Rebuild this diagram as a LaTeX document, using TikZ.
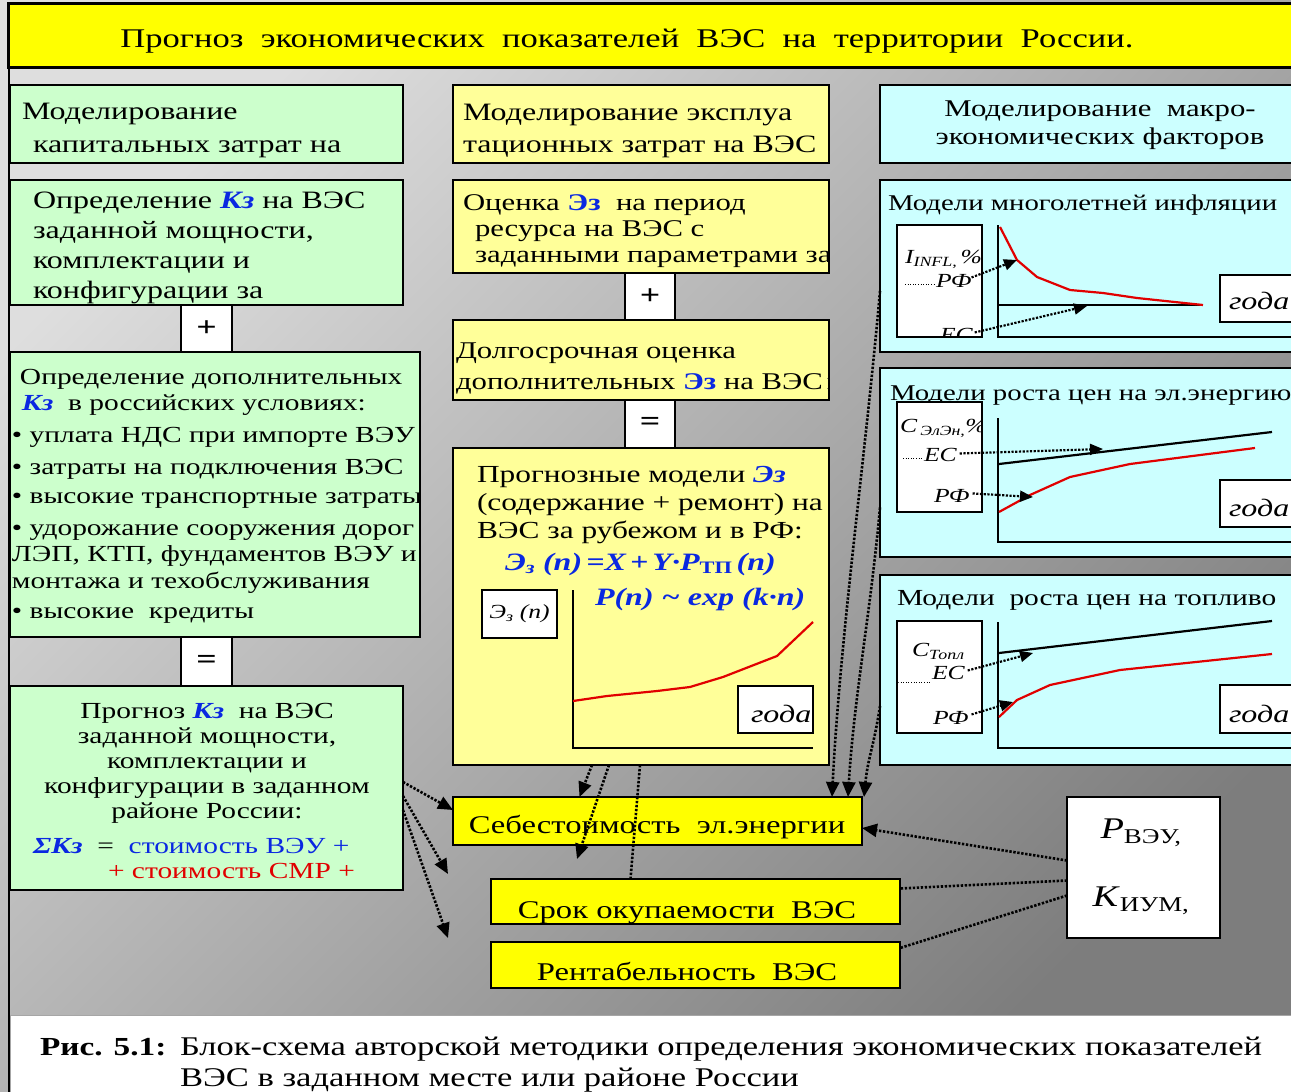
\documentclass[tikz,border=0pt]{standalone}
\usepackage{fontspec}
\setmainfont{Liberation Serif}[FakeStretch=1.28]
\usetikzlibrary{arrows.meta}

\definecolor{gfill}{RGB}{204,255,204}
\definecolor{yfill}{RGB}{255,255,153}
\definecolor{cfill}{RGB}{204,255,255}
\definecolor{ybright}{RGB}{255,255,0}
\definecolor{kblue}{RGB}{10,40,225}
\definecolor{kred}{RGB}{225,0,0}
\definecolor{bgUL}{RGB}{222,222,222}
\definecolor{bgLR}{RGB}{125,125,125}

\newcommand\fsz[2]{\fontsize{#1}{#2}\selectfont}
\newcommand\Kz{\textcolor{kblue}{\textbf{\textit{Кз}}}}
\newcommand\Ez{\textcolor{kblue}{\textbf{Эз}}}
% box from (x1,y1) to (x2,y2), y measured downwards
\newcommand\bx[7]{\node[#1, minimum width={#5-#3}, minimum height={#6-#4}] (#2) at (#3,#4) {#7};}
\newcommand\clipin[1]{\clip ([xshift=1.3pt,yshift=-1.3pt]#1.north west) rectangle ([xshift=-1.3pt,yshift=1.3pt]#1.south east);}

\tikzset{
  frame/.style={draw=black, line width=2.5pt, inner sep=0pt, outer sep=0pt, anchor=north west},
  gbox/.style={frame, fill=gfill},
  ybox/.style={frame, fill=yfill},
  cbox/.style={frame, fill=cfill},
  hbox/.style={frame, fill=ybright},
  wbox/.style={frame, fill=white},
  txt/.style={inner sep=0pt, outer sep=0pt, anchor=north west, align=left},
  ctxt/.style={inner sep=0pt, outer sep=0pt, anchor=north, align=center},
  btxt/.style={inner sep=0pt, outer sep=0pt, anchor=base west},
  bctxt/.style={inner sep=0pt, outer sep=0pt, anchor=base},
  link/.style={line width=2.6pt, dash pattern=on 2.4pt off 1.6pt},
  linkarr/.style={link, -{Triangle[length=15pt,width=13pt]}},
  tick/.style={line width=2.2pt, dash pattern=on 2.2pt off 1.5pt, -{Triangle[length=13pt,width=11pt]}},
  axis/.style={line width=2.5pt},
  redcurve/.style={line width=2.2pt, kred, line join=round},
  blkcurve/.style={line width=2.2pt, black},
  lead/.style={line width=0.6pt, dotted},
}

\begin{document}
\begin{tikzpicture}[x=1pt,y=-1pt]
\useasboundingbox (0,0) rectangle (1291,1092);
\shade[top color=bgUL, bottom color=bgLR, shading angle=45] (0,0) rectangle (1291,1092);

% ---------- title banner ----------
\node[frame, line width=3pt, fill=ybright, minimum width=1300pt, minimum height=64pt] (title) at (8,3) {};
\node[bctxt, font=\fsz{27}{30}] (titletext) at (627,47) {Прогноз\ \ экономических\ \ показателей\ \ ВЭС\ \ на\ \ территории\ \ России.};
\draw[line width=2pt] (9,67) -- (9,1092);

% ---------- left column: capital costs ----------
\bx{gbox}{A}{10}{85}{403}{163}{}
\begin{scope}\clipin{A}
\node[txt, font=\fsz{25}{33}] (Atext) at (22,95.9) {\strut Моделирование\\\hspace*{11pt}капитальных затрат на};
\end{scope}

\bx{gbox}{B}{10}{180}{403}{305}{}
\begin{scope}\clipin{B}
\node[txt, font=\fsz{25}{30}] (Btext) at (33,187) {\strut Определение \Kz{} на ВЭС\\заданной мощности,\\комплектации и\\конфигурации за};
\end{scope}

\bx{wbox}{plusA}{181}{305}{232}{352}{\fsz{28}{30}\bfseries +}

\bx{gbox}{C}{10}{352}{420}{637}{}
\begin{scope}\clipin{C}
\node[txt, font=\fsz{23}{26}] (Ctext) at (12,365.8) {\hspace*{8pt}\strut Определение дополнительных\\
\hspace*{10pt}\Kz\ \ в российских условиях:\\[6pt]
• уплата НДС при импорте ВЭУ\\[6pt]
• затраты на подключения ВЭС\\[3pt]
• высокие транспортные затраты\\[6pt]
• удорожание сооружения дорог\\
ЛЭП, КТП, фундаментов ВЭУ и\\[1pt]
монтажа и техобслуживания\\[4pt]
• высокие\ \ кредиты};
\end{scope}

\bx{wbox}{eqA}{181}{637}{232}{686}{\fsz{28}{30}\bfseries =}

\bx{gbox}{D}{10}{686}{403}{890}{}
\node[ctxt, font=\fsz{23}{25}] (Dtext) at (207,700.5) {\strut Прогноз \Kz\ \ на ВЭС\\заданной мощности,\\комплектации и\\конфигурации в заданном\\районе России:};
\node[btxt, font=\fsz{23}{25}] (Dsum) at (33,853) {\textcolor{kblue}{\textbf{\textit{ΣКз}}}\ \ =\ \ \textcolor{kblue}{стоимость ВЭУ +}};
\node[btxt, font=\fsz{23}{25}] (Dsmr) at (108,878) {\textcolor{kred}{+ стоимость СМР +}};

% ---------- middle column: operating costs ----------
\bx{ybox}{E}{453}{85}{829}{163}{}
\begin{scope}\clipin{E}
\node[txt, font=\fsz{25}{32}] (Etext) at (463,97.6) {\strut Моделирование эксплуа\\тационных затрат на ВЭС};
\end{scope}

\bx{ybox}{F}{453}{180}{829}{273}{}
\begin{scope}\clipin{F}
\node[txt, font=\fsz{24}{26}] (Ftext) at (463,191.8) {\strut Оценка \Ez\ \ на период\\\hspace*{12pt}ресурса на ВЭС с\\\hspace*{12pt}заданными параметрами за};
\end{scope}

\bx{wbox}{plusB}{625}{273}{675}{320}{\fsz{28}{30}\bfseries +}

\bx{ybox}{G}{453}{320}{829}{400}{}
\begin{scope}\clipin{G}
\node[txt, font=\fsz{24}{31}] (Gtext) at (456,336.3) {\strut Долгосрочная оценка\\дополнительных \Ez{} на ВЭС\,в};
\end{scope}

\bx{wbox}{eqB}{625}{400}{675}{448}{\fsz{28}{30}\bfseries =}

\bx{ybox}{H}{453}{448}{829}{765}{}
\node[txt, font=\fsz{24.5}{28}] (Htext) at (477,462.4) {\strut Прогнозные модели \textcolor{kblue}{\textbf{\textit{Эз}}}\\(содержание + ремонт) на\\ВЭС за рубежом и в РФ:};
\node[btxt, font=\fsz{25}{28}\bfseries\itshape, text=kblue] (Hf1) at (505,570) {Э\textsubscript{з} (n)\,=X\,+\,Y·P\textsubscript{\upshape ТП}\,(n)};
\node[btxt, font=\fsz{25}{28}\bfseries\itshape, text=kblue] (Hf2) at (595,605) {P(n) \textasciitilde{} exp (k·n)};
\bx{wbox}{Hlab}{482}{590}{557}{638}{\fsz{20}{22}\itshape Э\textsubscript{з} (n)}
\draw[axis] (573,590) -- (573,748) -- (813,748);
\draw[redcurve] (573,701) -- (607,696) -- (657,691) -- (690,687) -- (723,677) -- (777,656) -- (813,622);
\bx{wbox}{Hyr}{738}{686}{813}{733}{}
\node[btxt, font=\fsz{25}{28}\itshape] (Hyrt) at (751,722) {года};

% ---------- right column: macro factors ----------
\bx{cbox}{I}{880}{85}{1300}{163}{}
\node[ctxt, font=\fsz{24}{28}] (Itext) at (1100,96.4) {\strut Моделирование\ \ макро-\\экономических факторов};

% inflation
\bx{cbox}{J}{880}{180}{1300}{352}{}
\node[btxt, font=\fsz{22.5}{28}] (Jtitle) at (888,210) {Модели многолетней инфляции};
\bx{wbox}{Jlab}{897}{225}{982}{337}{}
\begin{scope}\clipin{Jlab}
\node[btxt, font=\fsz{20}{22}\itshape] (JI) at (905,263) {I\textsubscript{INFL,}\,\%};
\draw[lead] (905,284) -- (934,284);
\node[btxt, font=\fsz{20}{22}\itshape] (JRF) at (936,287) {РФ};
\node[btxt, font=\fsz{20}{22}\itshape] (JEU) at (940,341) {ЕС};
\end{scope}
\draw[axis] (998,225) -- (998,337) -- (1300,337);
\draw[blkcurve] (999,305) -- (1203,305);
\draw[redcurve] (1000,227) -- (1017,260) -- (1037,277) -- (1070,290) -- (1103,293) -- (1137,298) -- (1203,305);
\bx{wbox}{Jyr}{1220}{275}{1300}{322}{}
\node[btxt, font=\fsz{25}{28}\itshape] (Jyrt) at (1229,309) {года};
\draw[tick] ([yshift=3pt]JRF.east) -- (1017,260);
\draw[tick] ([xshift=2pt,yshift=2pt]JEU.east) -- (1087,306);

% electricity prices
\bx{cbox}{K}{880}{368}{1300}{557}{}
\node[btxt, font=\fsz{22.5}{28}] (Ktitle) at (890,400) {Модели роста цен на эл.энергию};
\bx{wbox}{Klab}{897}{402}{982}{512}{}
\begin{scope}\clipin{Klab}
\node[btxt, font=\fsz{20}{22}\itshape] (KC) at (900,432) {C\,\textsubscript{ЭлЭн,}\%};
\draw[lead] (903,458) -- (922,458);
\node[btxt, font=\fsz{20}{22}\itshape] (KEU) at (924,461) {ЕС};
\node[btxt, font=\fsz{20}{22}\itshape] (KRF) at (934,502) {РФ};
\end{scope}
\draw[axis] (998,418) -- (998,542) -- (1300,542);
\draw[blkcurve] (999,464) -- (1272,432);
\draw[redcurve] (999,512) -- (1030,495) -- (1070,477) -- (1130,464) -- (1255,448);
\bx{wbox}{Kyr}{1220}{480}{1300}{527}{}
\node[btxt, font=\fsz{25}{28}\itshape] (Kyrt) at (1229,516) {года};
\draw[tick] ([xshift=3pt,yshift=1pt]KEU.east) -- (1103,449);
\draw[tick] ([xshift=3pt,yshift=2pt]KRF.east) -- (1033,497);

% fuel prices
\bx{cbox}{L}{880}{575}{1300}{765}{}
\node[btxt, font=\fsz{23}{28}] (Ltitle) at (897,605) {Модели\ \ роста цен на топливо};
\bx{wbox}{Llab}{897}{621}{982}{733}{}
\begin{scope}\clipin{Llab}
\node[btxt, font=\fsz{20}{22}\itshape] (LC) at (912,656) {C\textsubscript{Топл}};
\draw[lead] (898,682) -- (930,682);
\node[btxt, font=\fsz{20}{22}\itshape] (LEU) at (932,679) {ЕС};
\node[btxt, font=\fsz{20}{22}\itshape] (LRF) at (933,724) {РФ};
\end{scope}
\draw[axis] (998,622) -- (998,748) -- (1300,748);
\draw[blkcurve] (999,653) -- (1272,621);
\draw[redcurve] (999,717) -- (1017,700) -- (1050,685) -- (1120,670) -- (1272,654);
\bx{wbox}{Lyr}{1220}{685}{1300}{733}{}
\node[btxt, font=\fsz{25}{28}\itshape] (Lyrt) at (1229,722) {года};
\draw[tick] ([xshift=3pt,yshift=2pt]LEU.east) -- (1033,653);
\draw[tick] ([xshift=3pt,yshift=3pt]LRF.east) -- (1013,702);

% ---------- results ----------
\bx{hbox}{M}{453}{797}{862}{845}{}
\node[bctxt, font=\fsz{25.5}{27}] (Mtext) at (657,833) {Себестоимость\ \ эл.энергии};

\bx{hbox}{N}{491}{879}{900}{924}{}
\begin{scope}\clipin{N}
\node[bctxt, font=\fsz{25.5}{27}] (Ntext) at (687,918) {Срок окупаемости\ \ ВЭС};
\end{scope}

\bx{hbox}{O}{491}{942}{900}{988}{}
\begin{scope}\clipin{O}
\node[bctxt, font=\fsz{25.5}{27}] (Otext) at (687,980) {Рентабельность\ \ ВЭС};
\end{scope}

\bx{wbox}{P}{1067}{797}{1220}{938}{}
\node[bctxt, font=\fsz{30}{32}] (Pv) at (1141,838) {\textit{P}\textsubscript{ВЭУ,}};
\node[bctxt, font=\fsz{30}{32}] (Kv) at (1141,906) {\textit{K}\textsubscript{ИУМ,}};

% ---------- connectors ----------
\coordinate (dN) at (448,874);
\coordinate (dO) at (448,938);
\draw[linkarr] ([yshift=6pt]D.east) -- ([yshift=11pt]M.west);
\draw[linkarr] ([yshift=-8pt]D.east) -- (dN);
\draw[linkarr] ([yshift=-22pt]D.east) -- (dO);

\coordinate (hM) at (577,859);
\draw[linkarr] ([xshift=-49pt]H.south) -- ([xshift=-78pt]M.north);
\draw[linkarr] ([xshift=-32pt]H.south) -- (hM);
\draw[link] ([xshift=-1pt]H.south) -- ([xshift=-65pt]N.north);

\draw[linkarr] ([yshift=-25pt]J.west) .. controls +(-14,160) and +(8,-160) .. ([xshift=-30pt]M.north east);
\draw[linkarr] ([yshift=-45pt]K.west) .. controls +(-10,110) and +(6,-100) .. ([xshift=-14pt]M.north east);
\draw[linkarr] ([yshift=-36pt]L.west) .. controls +(-6,40) and +(4,-40) .. ([xshift=2pt]M.north east);

\draw[linkarr] ([yshift=7pt]P.west) -- ([yshift=-7pt]M.east);
\draw[link] ([yshift=-13pt]P.west) -- ([yshift=13pt]N.east);
\draw[link] ([yshift=-28pt]P.west) -- ([yshift=17pt]O.east);

% ---------- caption ----------
\node[frame, draw=gray!70, line width=1pt, fill=white, minimum width=1290pt, minimum height=90pt] (cap) at (10,1015) {};
\node[btxt, font=\fsz{26}{31}\bfseries] (capnum) at (40,1055) {Рис. 5.1:};
\node[txt, font=\fsz{27}{31}] (captext) at (180,1033.3) {\strut Блок-схема авторской методики определения экономических показателей\\ВЭС в заданном месте или районе России};
\end{tikzpicture}
\end{document}
